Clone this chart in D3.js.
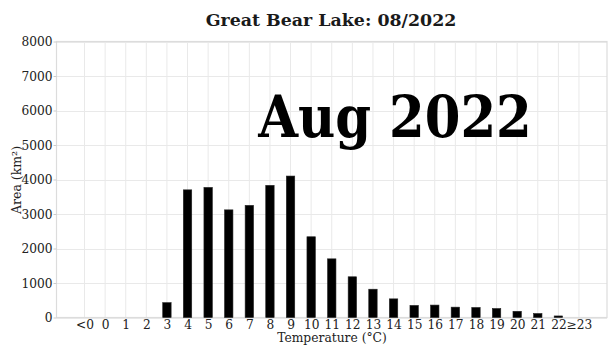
<!DOCTYPE html>
<html>
<head>
<meta charset="utf-8">
<script src="https://cdn.jsdelivr.net/npm/d3@7"></script>
<style>
  html, body { margin: 0; padding: 0; background: #fff; }
  svg { display: block; }
  text { font-family: "DejaVu Serif", serif; }
</style>
</head>
<body>
<svg id="chart" width="616" height="346"></svg>
<script>
// Surface area of Great Bear Lake by water temperature bin, August 2022
const categories = ["<0","0","1","2","3","4","5","6","7","8","9","10","11","12","13","14","15","16","17","18","19","20","21","22","≥23"];
const areaKm2 = [0, 0, 0, 0, 430, 3700, 3770, 3120, 3250, 3830, 4100, 2340, 1700, 1180, 820, 540, 350, 360, 300, 290, 260, 180, 115, 45, 0];
const yTicks = [0, 1000, 2000, 3000, 4000, 5000, 6000, 7000, 8000];

const chartTitle = "Great Bear Lake: 08/2022";
const stampText = "Aug 2022";
const xLabel = "Temperature (°C)";
const yLabel = "Area (km²)";

const svg = d3.select("#chart");
const margin = { left: 56.5, right: 9, top: 41.5, bottom: 28.5 };
const W = 616, H = 346;
const x0 = margin.left, x1 = W - margin.right;
const y0 = H - margin.bottom, y1 = margin.top;

const x = d3.scalePoint().domain(categories).range([x0, x1]).padding(1.36);
const y = d3.scaleLinear().domain([0, 8000]).range([y0, y1]);

// grid
const grid = svg.append("g").attr("stroke", "#e9e9e9").attr("stroke-width", 1);
grid.selectAll("line.h").data(yTicks).join("line")
  .attr("x1", x0).attr("x2", x1)
  .attr("y1", d => Math.round(y(d)) + 0.5).attr("y2", d => Math.round(y(d)) + 0.5);
grid.selectAll("line.v").data(categories).join("line")
  .attr("y1", y1).attr("y2", y0)
  .attr("x1", d => x(d)).attr("x2", d => x(d));

// frame
svg.append("rect").attr("x", x0).attr("y", y1)
  .attr("width", x1 - x0).attr("height", y0 - y1)
  .attr("fill", "none").attr("stroke", "#dcdcdc").attr("stroke-width", 1.2);

// bars
const barW = 8.4;
svg.append("g").selectAll("rect").data(categories.map((c, i) => ({ c, v: areaKm2[i] })).filter(d => d.v > 0))
  .join("rect")
  .attr("x", d => x(d.c) - barW / 2)
  .attr("width", barW)
  .attr("y", d => y(d.v))
  .attr("height", d => y(0) - y(d.v))
  .attr("fill", "#000")
  .attr("stroke", "#222").attr("stroke-width", 0.6);

// y axis
const yAxis = d3.axisLeft(y).tickValues(yTicks).tickSize(3).tickPadding(1).tickFormat(d3.format("d"));
const gy = svg.append("g").attr("transform", `translate(${x0},0)`).call(yAxis);
gy.select(".domain").remove();
gy.selectAll(".tick line").attr("stroke", "#ccc");
gy.selectAll(".tick text").style("font-family", "'DejaVu Serif', serif").style("font-size", "12.2px")
  .attr("fill", "#222").attr("dy", "0.36em");

// x axis
const xAxis = d3.axisBottom(x).tickSize(0).tickPadding(3);
const gx = svg.append("g").attr("transform", `translate(0,${y0})`).call(xAxis);
gx.select(".domain").remove();
gx.selectAll(".tick text").style("font-family", "'DejaVu Serif', serif").style("font-size", "12.2px").attr("fill", "#222");

// titles
svg.append("text").attr("x", 331).attr("y", 26).attr("text-anchor", "middle")
  .style("font-size", "17.4px").style("font-weight", "bold").attr("fill", "#1a1a1a").text(chartTitle);
svg.append("text").attr("x", 332).attr("y", 342).attr("text-anchor", "middle")
  .style("font-size", "12.3px").attr("fill", "#222").text(xLabel);
svg.append("text").attr("transform", "translate(21,180) rotate(-90)").attr("text-anchor", "middle")
  .style("font-size", "12.5px").attr("fill", "#222")
  .text(yLabel);

// month stamp
svg.append("text").attr("x", 395).attr("y", 137).attr("text-anchor", "middle")
  .style("font-family", "'DejaVu Serif Condensed', 'DejaVu Serif', serif")
  .style("font-size", "57px").style("font-weight", "bold").attr("fill", "#000").text(stampText);
</script>
</body>
</html>
